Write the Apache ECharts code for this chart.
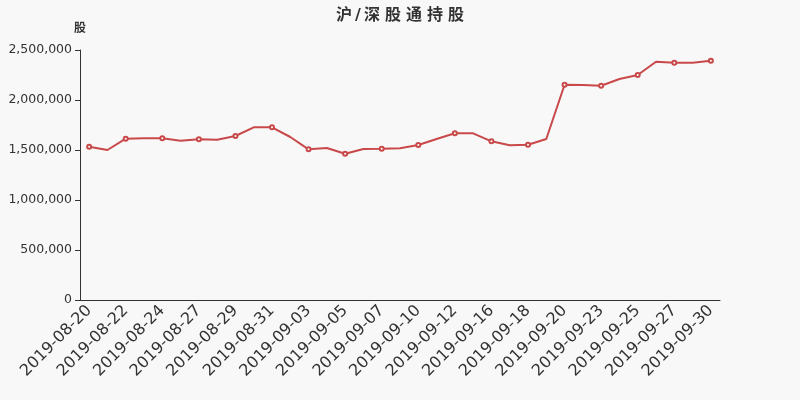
<!DOCTYPE html>
<html>
<head>
<meta charset="utf-8">
<script src="https://cdn.jsdelivr.net/npm/echarts@6/dist/echarts.min.js"></script>
<style>html,body{margin:0;padding:0;background:#f8f8f8;}#c{width:800px;height:400px;}</style>
</head>
<body>
<div id="c"></div>
<script>
var titleText = '沪/深股通持股';
var yName = '股';
var categories = ['2019-08-20','2019-08-21','2019-08-22','2019-08-23','2019-08-24','2019-08-26','2019-08-27','2019-08-28','2019-08-29','2019-08-30','2019-08-31','2019-09-02','2019-09-03','2019-09-04','2019-09-05','2019-09-06','2019-09-07','2019-09-09','2019-09-10','2019-09-11','2019-09-12','2019-09-14','2019-09-16','2019-09-17','2019-09-18','2019-09-19','2019-09-20','2019-09-21','2019-09-23','2019-09-24','2019-09-25','2019-09-26','2019-09-27','2019-09-28','2019-09-30'];
var holdings = [1533000,1500000,1613000,1617000,1617000,1593000,1607000,1603000,1640000,1727000,1727000,1630000,1507000,1520000,1463000,1510000,1513000,1517000,1550000,1610000,1667000,1667000,1587000,1547000,1553000,1610000,2153000,2150000,2143000,2210000,2250000,2383000,2373000,2373000,2393000];
var yTicks = {min: 0, max: 2500000, interval: 500000};

var FONT = '"DejaVu Sans", "Noto Sans CJK SC", sans-serif';
var LINE = '#c9494a';

// title drawn as spaced characters (rich tokens), same text content
var titleRich = titleText.split('').map(function(ch){ return (ch === '/' ? '{s|' : '{t|') + ch + '}'; }).join('');

var chart = echarts.init(document.getElementById('c'));
chart.setOption({
  backgroundColor: '#f8f8f8',
  animation: false,
  textStyle: {fontFamily: FONT},
  title: {
    text: titleRich, left: 'center', top: 3,
    textStyle: {
      fontSize: 16, fontWeight: 'bold', color: '#333', fontFamily: FONT,
      rich: {
        t: {fontSize: 16, fontWeight: 'bold', color: '#333', fontFamily: FONT, padding: [0, 2.5]},
        s: {fontSize: 16, fontWeight: 'bold', color: '#333', fontFamily: FONT, padding: [0, 0.5]}
      }
    }
  },
  grid: {left: 80, right: 80, top: 50, bottom: 100},
  xAxis: {
    type: 'category', data: categories, boundaryGap: true,
    axisLine: {lineStyle: {color: '#333'}},
    axisTick: {interval: 1, lineStyle: {color: '#333'}},
    axisLabel: {rotate: 45, interval: 1, fontSize: 16, color: '#333', fontFamily: FONT}
  },
  yAxis: {
    type: 'value', name: yName, min: yTicks.min, max: yTicks.max, interval: yTicks.interval,
    nameTextStyle: {color: '#333', fontWeight: 'bold', fontSize: 12, align: 'center', fontFamily: FONT},
    axisLine: {show: true, lineStyle: {color: '#333'}},
    axisTick: {show: true, lineStyle: {color: '#333'}},
    splitLine: {show: false},
    axisLabel: {color: '#333', fontSize: 12.5, fontFamily: FONT, formatter: function(v){return v.toLocaleString('en-US');}}
  },
  series: [{
    type: 'line', data: holdings,
    symbol: function(value, params){ return params.dataIndex % 2 === 0 ? 'emptyCircle' : 'none'; },
    symbolSize: 4, showAllSymbol: true,
    lineStyle: {color: LINE, width: 2},
    itemStyle: {color: LINE, borderWidth: 1}
  }]
});
</script>
</body>
</html>
